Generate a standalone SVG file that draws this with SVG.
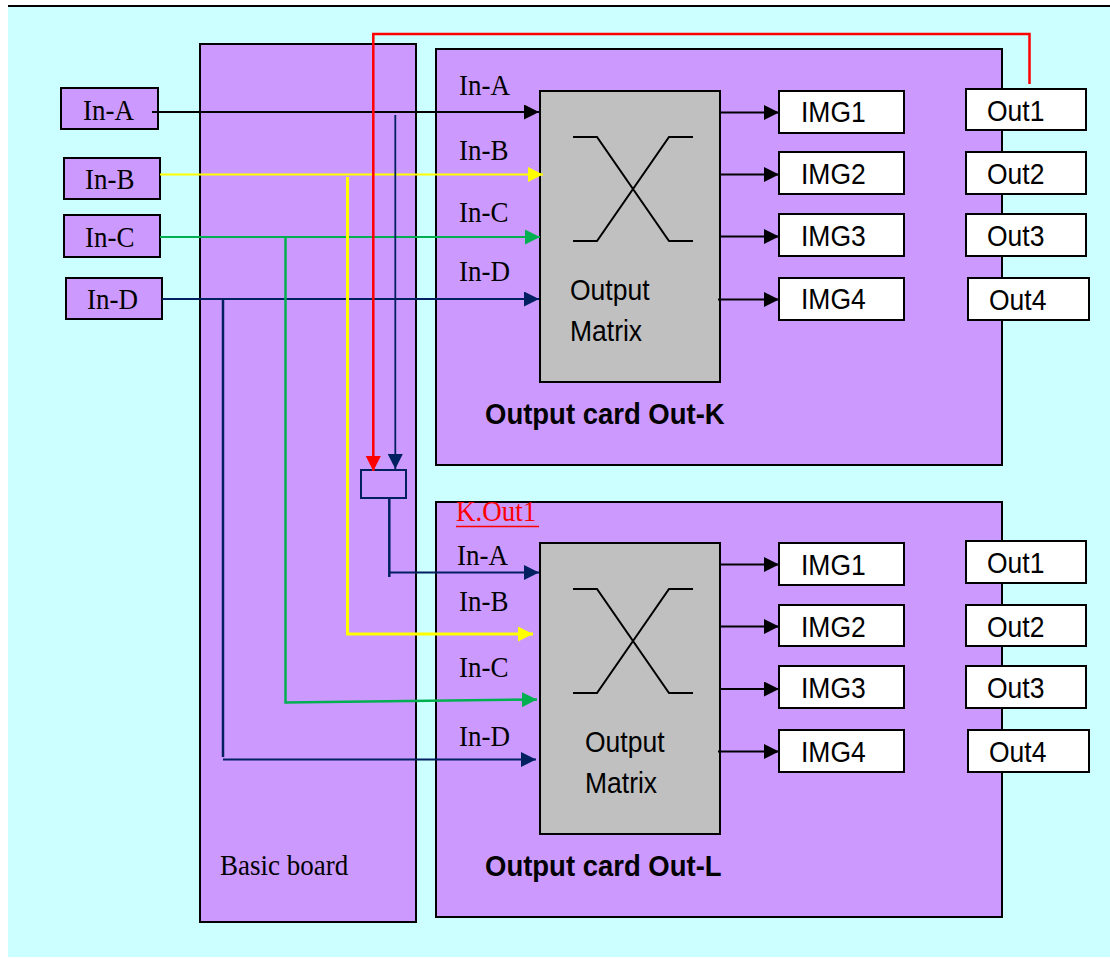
<svg xmlns="http://www.w3.org/2000/svg" width="1110" height="958" viewBox="0 0 1110 958">
<style>
.bg{fill:#CCFFFF;stroke:none}
.board{fill:#CC99FF;stroke:#000;stroke-width:2}
.inbox{fill:#CC99FF;stroke:#000;stroke-width:2}
.matrix{fill:#C0C0C0;stroke:#000;stroke-width:2}
.wbox{fill:#FFFFFF;stroke:#000;stroke-width:2}
.sw{fill:none;stroke:#002060;stroke-width:2}
.tr{font-family:"Liberation Serif","Times New Roman",serif;font-size:27px;fill:#000}
.ta{font-family:"Liberation Sans",Arial,sans-serif;font-size:26.5px;fill:#000}
.tb{font-family:"Liberation Sans",Arial,sans-serif;font-size:27.5px;font-weight:bold;fill:#000}
.x{fill:none;stroke:#000;stroke-width:2}
.c{fill:none}
</style>
<defs>
<marker id="ak" markerUnits="userSpaceOnUse" markerWidth="15" markerHeight="15" refX="15" refY="7.5" orient="auto"><path d="M0,0 L15,7.5 L0,15 z" fill="#000"/></marker>
<marker id="ay" markerUnits="userSpaceOnUse" markerWidth="15" markerHeight="15" refX="15" refY="7.5" orient="auto"><path d="M0,0 L15,7.5 L0,15 z" fill="#FFFF00"/></marker>
<marker id="ag" markerUnits="userSpaceOnUse" markerWidth="15" markerHeight="15" refX="15" refY="7.5" orient="auto"><path d="M0,0 L15,7.5 L0,15 z" fill="#00B050"/></marker>
<marker id="an" markerUnits="userSpaceOnUse" markerWidth="15" markerHeight="15" refX="15" refY="7.5" orient="auto"><path d="M0,0 L15,7.5 L0,15 z" fill="#002060"/></marker>
<marker id="ar" markerUnits="userSpaceOnUse" markerWidth="15" markerHeight="15" refX="15" refY="7.5" orient="auto"><path d="M0,0 L15,7.5 L0,15 z" fill="#FF0000"/></marker>
</defs>

<rect class="bg" x="8" y="7" width="1102" height="950"/>
<line x1="8" y1="6" x2="1110" y2="6" stroke="#000" stroke-width="2"/>

<g id="basic-board">
<rect class="board" x="200" y="44" width="216" height="878"/>
<text class="tr" transform="matrix(1,0,0,1.1,220,875)">Basic board</text>
</g>

<g id="card-k">
<rect class="board" x="436" y="49" width="566" height="416"/>
<text class="tr" transform="matrix(1,0,0,1.1,459,95)">In-A</text>
<text class="tr" transform="matrix(1,0,0,1.1,459,160)">In-B</text>
<text class="tr" transform="matrix(1,0,0,1.1,459,222)">In-C</text>
<text class="tr" transform="matrix(1,0,0,1.1,459,281)">In-D</text>
<text class="tb" transform="matrix(1,0,0,1.1,485,424)">Output card Out-K</text>
</g>

<g id="card-l">
<rect class="board" x="436" y="502" width="566" height="415"/>
<text class="tr" transform="matrix(1,0,0,1.1,456,521)" style="fill:#FF0000">K.Out1</text>
<line x1="456" y1="526.5" x2="539" y2="526.5" stroke="#FF0000" stroke-width="1.5"/>
<text class="tr" transform="matrix(1,0,0,1.1,457,565)">In-A</text>
<text class="tr" transform="matrix(1,0,0,1.1,459,611)">In-B</text>
<text class="tr" transform="matrix(1,0,0,1.1,459,677)">In-C</text>
<text class="tr" transform="matrix(1,0,0,1.1,459,746)">In-D</text>
<text class="tb" transform="matrix(1,0,0,1.1,485,876)">Output card Out-L</text>
</g>

<g id="in-a"><rect class="inbox" x="61" y="88" width="97" height="41"/><text class="tr" transform="matrix(1,0,0,1.1,83,120)">In-A</text></g>
<g id="in-b"><rect class="inbox" x="64" y="158" width="96" height="41"/><text class="tr" transform="matrix(1,0,0,1.1,85,189)">In-B</text></g>
<g id="in-c"><rect class="inbox" x="64" y="215" width="96" height="42"/><text class="tr" transform="matrix(1,0,0,1.1,85,247)">In-C</text></g>
<g id="in-d"><rect class="inbox" x="66" y="278" width="96" height="41"/><text class="tr" transform="matrix(1,0,0,1.1,87,309)">In-D</text></g>

<g id="matrix-k">
<rect class="matrix" x="540" y="91" width="180" height="291"/>
<path class="x" d="M573,137 H597 L669,241 H693 M573,241 H597 L669,137 H693"/>
<text class="ta" transform="matrix(1,0,0,1.1,570,300)">Output</text>
<text class="ta" transform="matrix(1,0,0,1.1,570,341)">Matrix</text>
</g>
<g id="matrix-l">
<rect class="matrix" x="540" y="543" width="180" height="291"/>
<path class="x" d="M573,589 H597 L669,693 H693 M573,693 H597 L669,589 H693"/>
<text class="ta" transform="matrix(1,0,0,1.1,585,752)">Output</text>
<text class="ta" transform="matrix(1,0,0,1.1,585,793)">Matrix</text>
</g>

<g id="img-k1"><rect class="wbox" x="779" y="91" width="125" height="42"/><text class="ta" transform="matrix(1,0,0,1.1,801,122)">IMG1</text></g>
<g id="img-k2"><rect class="wbox" x="779" y="152" width="125" height="42"/><text class="ta" transform="matrix(1,0,0,1.1,801,184)">IMG2</text></g>
<g id="img-k3"><rect class="wbox" x="779" y="214" width="125" height="42"/><text class="ta" transform="matrix(1,0,0,1.1,801,246)">IMG3</text></g>
<g id="img-k4"><rect class="wbox" x="779" y="278" width="125" height="42"/><text class="ta" transform="matrix(1,0,0,1.1,801,309)">IMG4</text></g>
<g id="out-k1"><rect class="wbox" x="966" y="89" width="120" height="41"/><text class="ta" transform="matrix(1,0,0,1.1,987,121)">Out1</text></g>
<g id="out-k2"><rect class="wbox" x="966" y="152" width="120" height="42"/><text class="ta" transform="matrix(1,0,0,1.1,987,184)">Out2</text></g>
<g id="out-k3"><rect class="wbox" x="966" y="214" width="120" height="42"/><text class="ta" transform="matrix(1,0,0,1.1,987,246)">Out3</text></g>
<g id="out-k4"><rect class="wbox" x="968" y="278" width="121" height="42"/><text class="ta" transform="matrix(1,0,0,1.1,989,310)">Out4</text></g>

<g id="img-l1"><rect class="wbox" x="779" y="543" width="125" height="42"/><text class="ta" transform="matrix(1,0,0,1.1,801,575)">IMG1</text></g>
<g id="img-l2"><rect class="wbox" x="779" y="605" width="125" height="41"/><text class="ta" transform="matrix(1,0,0,1.1,801,637)">IMG2</text></g>
<g id="img-l3"><rect class="wbox" x="779" y="666" width="125" height="42"/><text class="ta" transform="matrix(1,0,0,1.1,801,698)">IMG3</text></g>
<g id="img-l4"><rect class="wbox" x="779" y="730" width="125" height="42"/><text class="ta" transform="matrix(1,0,0,1.1,801,762)">IMG4</text></g>
<g id="out-l1"><rect class="wbox" x="966" y="541" width="120" height="42"/><text class="ta" transform="matrix(1,0,0,1.1,987,573)">Out1</text></g>
<g id="out-l2"><rect class="wbox" x="966" y="605" width="120" height="41"/><text class="ta" transform="matrix(1,0,0,1.1,987,637)">Out2</text></g>
<g id="out-l3"><rect class="wbox" x="966" y="666" width="120" height="42"/><text class="ta" transform="matrix(1,0,0,1.1,987,698)">Out3</text></g>
<g id="out-l4"><rect class="wbox" x="968" y="730" width="121" height="42"/><text class="ta" transform="matrix(1,0,0,1.1,989,762)">Out4</text></g>

<g id="switch"><rect class="sw" x="361" y="470" width="45" height="28"/></g>

<g id="connectors" class="c">
<path d="M152,112 H539" stroke="#000" stroke-width="2" marker-end="url(#ak)"/>
<path d="M160,174.5 H543" stroke="#FFFF00" stroke-width="2" marker-end="url(#ay)"/>
<path d="M160,237 H540" stroke="#00B050" stroke-width="2" marker-end="url(#ag)"/>
<path d="M162,299 H539" stroke="#002060" stroke-width="1.8" marker-end="url(#an)"/>
<path d="M347.5,177 V634 H533" stroke="#FFFF00" stroke-width="3" marker-end="url(#ay)"/>
<path d="M285.5,237 V702.5 L537,699.5" stroke="#00B050" stroke-width="2.5" marker-end="url(#ag)"/>
<path d="M223,299 V757" stroke="#002060" stroke-width="2.5"/>
<path d="M223,759.5 H536" stroke="#002060" stroke-width="1.8" marker-end="url(#an)"/>
<path d="M395.3,115 V469" stroke="#002060" stroke-width="1.8" marker-end="url(#an)"/>
<path d="M1029.5,84 V34 H373.3 V471" stroke="#FF0000" stroke-width="2.5" marker-end="url(#ar)"/>
<path d="M389.3,498 V577" stroke="#002060" stroke-width="2.5"/>
<path d="M389.3,572.5 H539" stroke="#002060" stroke-width="1.8" marker-end="url(#an)"/>
<path d="M720,112.5 H779" stroke="#000" stroke-width="2" marker-end="url(#ak)"/>
<path d="M720,174.5 H779" stroke="#000" stroke-width="2" marker-end="url(#ak)"/>
<path d="M720,236.5 H779" stroke="#000" stroke-width="2" marker-end="url(#ak)"/>
<path d="M718,299.5 H779" stroke="#000" stroke-width="2" marker-end="url(#ak)"/>
<path d="M720,564.5 H779" stroke="#000" stroke-width="2" marker-end="url(#ak)"/>
<path d="M720,626.5 H779" stroke="#000" stroke-width="2" marker-end="url(#ak)"/>
<path d="M720,689 H779" stroke="#000" stroke-width="2" marker-end="url(#ak)"/>
<path d="M718,751.5 H779" stroke="#000" stroke-width="2" marker-end="url(#ak)"/>
</g>
</svg>
